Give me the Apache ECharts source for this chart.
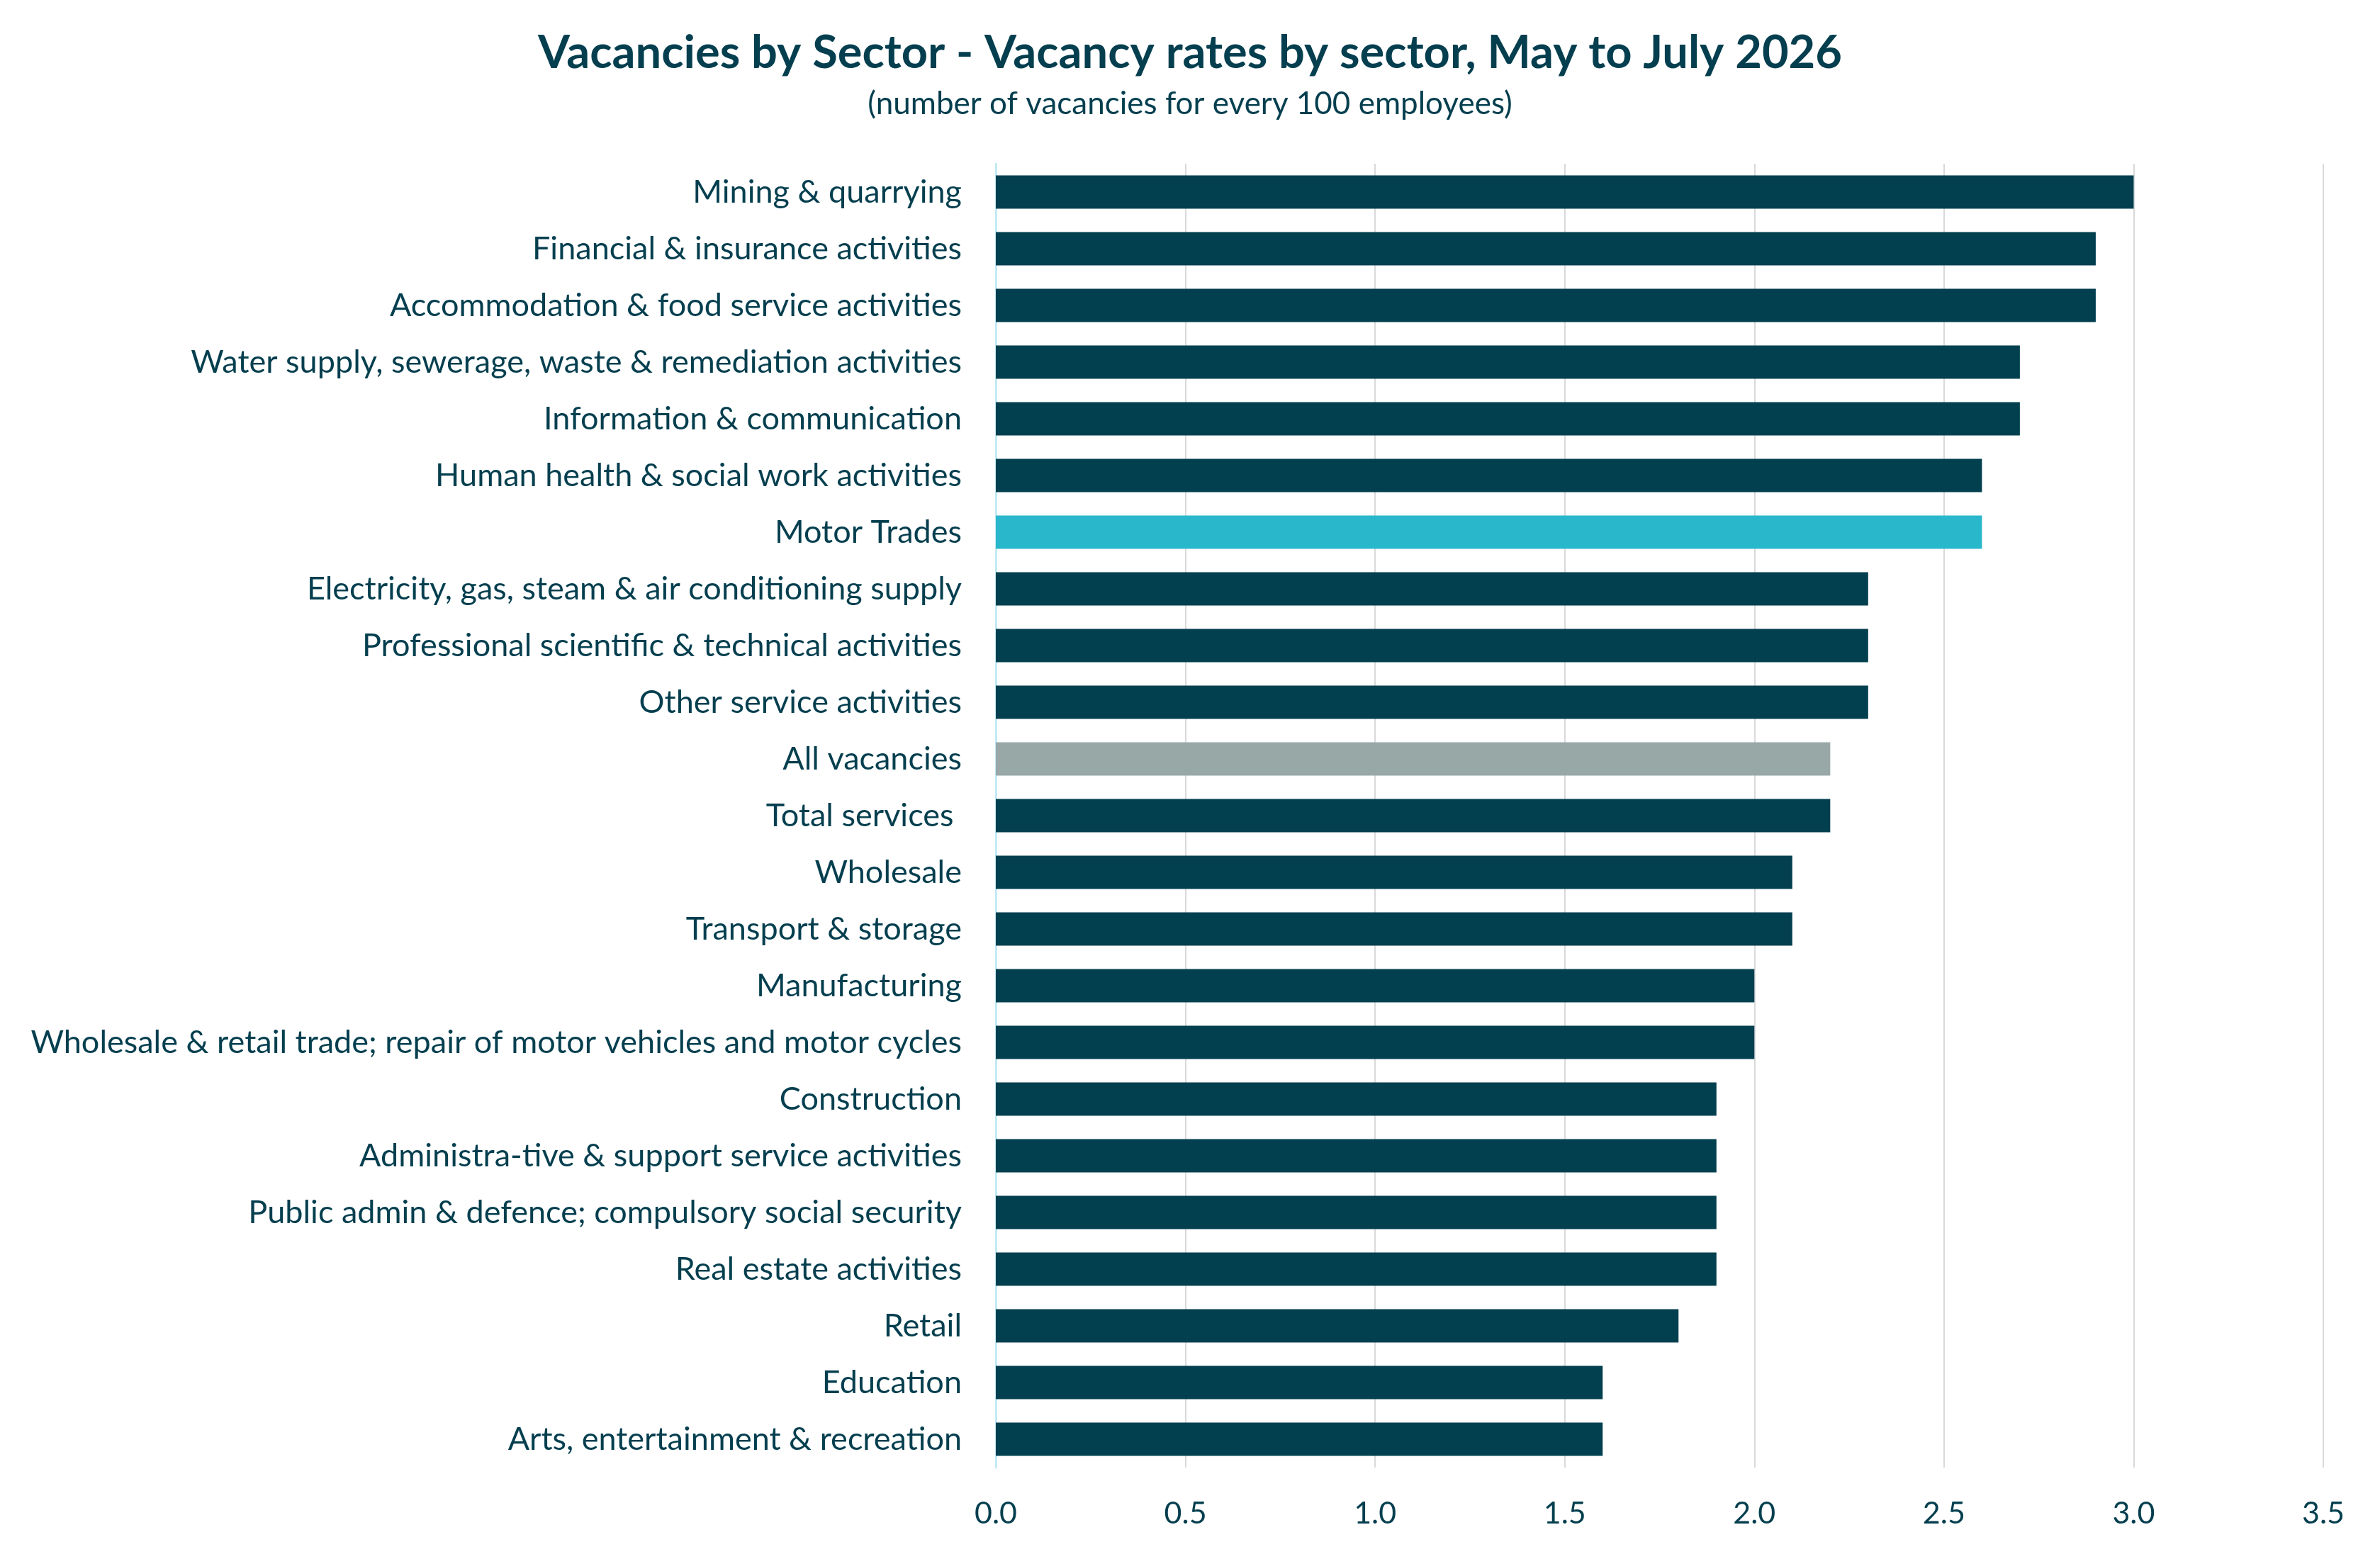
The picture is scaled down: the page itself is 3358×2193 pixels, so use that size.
<!DOCTYPE html>
<html>
<head>
<meta charset="utf-8">
<script src="https://cdn.jsdelivr.net/npm/echarts@6/dist/echarts.min.js"></script>
<style>
  html, body { margin: 0; padding: 0; background: #ffffff; }
  #chart { width: 3358px; height: 2193px; }
</style>
</head>
<body>
<div id="chart"></div>
<script>
const sectors = [
  "Mining & quarrying",
  "Financial & insurance activities",
  "Accommodation & food service activities",
  "Water supply, sewerage, waste & remediation activities",
  "Information & communication",
  "Human health & social work activities",
  "Motor Trades",
  "Electricity, gas, steam & air conditioning supply",
  "Professional scientific & technical activities",
  "Other service activities",
  "All vacancies",
  "Total services ",
  "Wholesale",
  "Transport & storage",
  "Manufacturing",
  "Wholesale & retail trade; repair of motor vehicles and motor cycles",
  "Construction",
  "Administra-tive & support service activities",
  "Public admin & defence; compulsory social security",
  "Real estate activities",
  "Retail",
  "Education",
  "Arts, entertainment & recreation"
];

const vacancyRates = [3.0, 2.9, 2.9, 2.7, 2.7, 2.6, 2.6, 2.3, 2.3, 2.3, 2.2, 2.2, 2.1, 2.1, 2.0, 2.0, 1.9, 1.9, 1.9, 1.9, 1.8, 1.6, 1.6];

const highlightColors = {
  "Motor Trades": "#29b7cc",
  "All vacancies": "#97a8a7"
};

const baseColor = "#023f4f";
const textColor = "#053f4f";
const fontFamily = "Lato, 'Noto Sans', sans-serif";

const chart = echarts.init(document.getElementById("chart"));

chart.setOption({
  backgroundColor: "#ffffff",
  animation: false,
  title: [
    {
      text: "Vacancies by Sector - Vacancy rates by sector, May to July 2026",
      left: "center",
      top: 38,
      textStyle: { color: textColor, fontFamily: fontFamily, fontWeight: "bold", fontSize: 65 }
    },
    {
      text: "(number of vacancies for every 100 employees)",
      left: "center",
      top: 120,
      textStyle: { color: textColor, fontFamily: fontFamily, fontWeight: "normal", fontSize: 44 }
    }
  ],
  grid: { left: 1405, right: 80, top: 231, bottom: 122 },
  xAxis: {
    type: "value",
    min: 0,
    max: 3.5,
    interval: 0.5,
    axisLine: { show: false },
    axisTick: { show: false },
    splitLine: { lineStyle: { color: "#d9d9d9", width: 2 } },
    axisLabel: {
      color: textColor,
      fontFamily: fontFamily,
      fontSize: 43,
      margin: 44,
      formatter: (v) => v.toFixed(1)
    }
  },
  yAxis: {
    type: "category",
    inverse: true,
    data: sectors,
    axisLine: { show: true, lineStyle: { color: "#c3eaf4", width: 3 } },
    axisTick: { show: false },
    axisLabel: {
      color: textColor,
      fontFamily: fontFamily,
      fontSize: 45,
      margin: 48
    }
  },
  series: [
    {
      type: "bar",
      data: vacancyRates.map((v, i) => ({
        value: v,
        itemStyle: { color: highlightColors[sectors[i]] || baseColor }
      })),
      barCategoryGap: "41%"
    }
  ]
});
</script>
</body>
</html>
